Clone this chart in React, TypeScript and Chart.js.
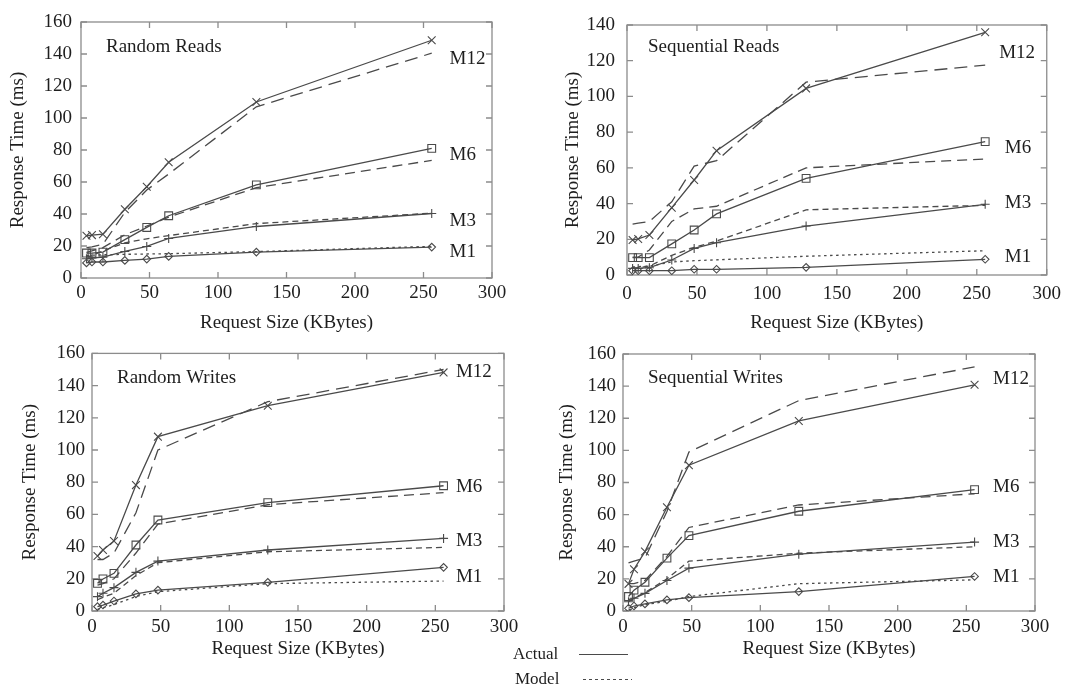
import React, { useEffect, useRef } from 'react';
import { Chart, registerables } from 'chart.js';
Chart.register(...registerables);

const FONT = '"Liberation Serif", "Times New Roman", Times, serif';
const INK = '#1e1e1e';
const LINE = '#4a4a4a';
const FRAME = '#8c8c8c';

const seriesNames = ['M12', 'M6', 'M3', 'M1'];
const xTickValues = [0, 50, 100, 150, 200, 250, 300];

const readSizes = [4, 8, 16, 32, 48, 64, 128, 256];
const writeSizes = [4, 8, 16, 32, 48, 128, 256];

// Random Reads
const rrActualM12 = [26.4, 26.8, 27.4, 43, 57, 72.3, 110, 148.6];
const rrModelM12 = [19, 19.5, 21, 41, 55, 65, 107, 140.5];
const rrActualM6 = [15.6, 15.6, 16.2, 24, 31.6, 38.9, 58.2, 81];
const rrModelM6 = [16, 17, 19, 27, 32.5, 38, 56.5, 73.5];
const rrActualM3 = [12, 12.5, 13, 16.6, 19.7, 24.7, 32.2, 40.3];
const rrModelM3 = [13, 14, 17, 22, 24.5, 26.5, 34, 40.5];
const rrActualM1 = [9.4, 10, 10, 11, 11.8, 13.5, 16.2, 19.3];
const rrModelM1 = [14, 14.3, 14.5, 14.8, 15, 15.2, 16.5, 19.8];

// Sequential Reads
const srActualM12 = [19.6, 20.2, 22.4, 37.7, 53.2, 69.6, 104.5, 135.9];
const srModelM12 = [28.5, 29, 30, 41, 61, 64, 108, 117.5];
const srActualM6 = [9.7, 9.7, 9.7, 17.4, 25.2, 34.2, 54.1, 74.7];
const srModelM6 = [10, 10, 14, 30, 37, 38.5, 60, 65];
const srActualM3 = [3.7, 3.7, 4.1, 8.4, 14.9, 18.1, 27.4, 39.6];
const srModelM3 = [4, 4, 5, 11, 15.5, 19, 36.5, 39];
const srActualM1 = [2.4, 2.4, 2.4, 2.4, 3.2, 3.2, 4.3, 8.8];
const srModelM1 = [4.5, 4.7, 5, 7.3, 8, 8.5, 10.5, 13.6];

// Random Writes
const rwActualM12 = [34.2, 37.9, 43.5, 78.2, 108.3, 127.5, 148.2];
const rwModelM12 = [32, 32, 36, 61, 100, 130, 150];
const rwActualM6 = [17.2, 19.9, 23.4, 41, 56.5, 67.3, 77.8];
const rwModelM6 = [16, 17, 20, 36, 54, 66, 73.5];
const rwActualM3 = [8.9, 11, 14.5, 24, 31, 37.9, 45.1];
const rwModelM3 = [7, 8.5, 11, 22, 30, 36.8, 39.5];
const rwActualM1 = [2.7, 3.7, 6.2, 10.6, 13, 17.8, 27.1];
const rwModelM1 = [1, 2, 4, 9, 12, 17, 18.6];

// Sequential Writes
const swActualM12 = [16.9, 26, 37, 64.6, 90.8, 118.3, 140.8];
const swModelM12 = [30, 31, 33, 62, 99, 131, 152];
const swActualM6 = [9, 13, 17.9, 32.9, 46.9, 62.1, 75.6];
const swModelM6 = [17, 17, 19, 34, 52, 66, 73];
const swActualM3 = [5.8, 7.9, 11, 19, 26.7, 35.4, 42.9];
const swModelM3 = [7, 8, 11.5, 20, 31, 36, 40];
const swActualM1 = [1.7, 3.1, 4.4, 6.9, 8.3, 12.1, 21.5];
const swModelM1 = [0.5, 2, 4, 6, 9, 17, 19.4];

const markerStyles = ['crossRot', 'rect', 'cross', 'rectRot'];
const markerRadii = [5.5, 5.5, 4.5, 3.8];
const modelDashes = [[13, 7], [10, 6], [6, 4], [2.5, 3.5]];

type PanelCfg = {
  title: string;
  sizes: number[];
  actual: number[][];
  model: number[][];
  yMax: number;
  labelAnchors: { x: number; y: number }[];
  rect: { left: number; top: number; width: number; height: number };
  area: { l: number; t: number; r: number; b: number };
  yTitleX: number;
  xTitleY: number;
  yTickPad: number;
  xTickPad: number;
  titleOffset: [number, number];
};

const panels: PanelCfg[] = [
  {
    title: 'Random Reads',
    sizes: readSizes,
    actual: [rrActualM12, rrActualM6, rrActualM3, rrActualM1],
    model: [rrModelM12, rrModelM6, rrModelM3, rrModelM1],
    yMax: 160,
    labelAnchors: [{ x: 269, y: 137 }, { x: 269, y: 77 }, { x: 269, y: 35.6 }, { x: 269, y: 16.3 }],
    rect: { left: 0, top: 0, width: 535, height: 335 },
    area: { l: 81, t: 22, r: 492, b: 278 },
    yTitleX: 18,
    xTitleY: 323,
    yTickPad: 9,
    xTickPad: 4,
    titleOffset: [25, 25],
  },
  {
    title: 'Sequential Reads',
    sizes: readSizes,
    actual: [srActualM12, srActualM6, srActualM3, srActualM1],
    model: [srModelM12, srModelM6, srModelM3, srModelM1],
    yMax: 140,
    labelAnchors: [{ x: 266, y: 124.3 }, { x: 270, y: 71.1 }, { x: 270, y: 40.3 }, { x: 270, y: 10.1 }],
    rect: { left: 535, top: 0, width: 534, height: 335 },
    area: { l: 92, t: 25, r: 512, b: 275 },
    yTitleX: 38,
    xTitleY: 323,
    yTickPad: 12,
    xTickPad: 8,
    titleOffset: [21, 22],
  },
  {
    title: 'Random Writes',
    sizes: writeSizes,
    actual: [rwActualM12, rwActualM6, rwActualM3, rwActualM1],
    model: [rwModelM12, rwModelM6, rwModelM3, rwModelM1],
    yMax: 160,
    labelAnchors: [{ x: 265, y: 148.2 }, { x: 265, y: 77 }, { x: 265, y: 43.4 }, { x: 265, y: 21.1 }],
    rect: { left: 0, top: 335, width: 535, height: 351 },
    area: { l: 92, t: 18, r: 504, b: 276 },
    yTitleX: 30,
    xTitleY: 314,
    yTickPad: 7,
    xTickPad: 5,
    titleOffset: [25, 25],
  },
  {
    title: 'Sequential Writes',
    sizes: writeSizes,
    actual: [swActualM12, swActualM6, swActualM3, swActualM1],
    model: [swModelM12, swModelM6, swModelM3, swModelM1],
    yMax: 160,
    labelAnchors: [{ x: 269.5, y: 144.5 }, { x: 269.5, y: 77.2 }, { x: 269.5, y: 43 }, { x: 269.5, y: 21.2 }],
    rect: { left: 535, top: 335, width: 534, height: 351 },
    area: { l: 88, t: 19, r: 500, b: 276 },
    yTitleX: 32,
    xTitleY: 314,
    yTickPad: 7,
    xTickPad: 5,
    titleOffset: [25, 24],
  },
];

const FONT_SIZE = 19;
const LH = FONT_SIZE * 1.2;

const framePlugin = {
  id: 'frame',
  beforeDatasetsDraw(chart: any) {
    const { ctx, chartArea: a, scales } = chart;
    const x = scales.x;
    const y = scales.y;
    ctx.save();
    ctx.strokeStyle = FRAME;
    ctx.lineWidth = 1.3;
    ctx.strokeRect(a.left, a.top, a.right - a.left, a.bottom - a.top);
    const tl = 6;
    ctx.beginPath();
    x.ticks.forEach((t: any) => {
      const px = x.getPixelForValue(t.value);
      ctx.moveTo(px, a.bottom);
      ctx.lineTo(px, a.bottom - tl);
      ctx.moveTo(px, a.top);
      ctx.lineTo(px, a.top + tl);
    });
    y.ticks.forEach((t: any) => {
      const py = y.getPixelForValue(t.value);
      ctx.moveTo(a.left, py);
      ctx.lineTo(a.left + tl, py);
      ctx.moveTo(a.right, py);
      ctx.lineTo(a.right - tl, py);
    });
    ctx.stroke();
    ctx.restore();
  },
  afterDatasetsDraw(chart: any, _args: any, opts: any) {
    const { ctx, chartArea: a, scales } = chart;
    ctx.save();
    ctx.fillStyle = INK;
    ctx.font = `${FONT_SIZE}px ${FONT}`;
    ctx.textBaseline = 'middle';
    ctx.textAlign = 'left';
    ctx.fillText(opts.title, a.left + opts.titleOffset[0], a.top + opts.titleOffset[1]);
    (opts.labelAnchors as { x: number; y: number }[]).forEach((p, i) => {
      ctx.fillText(seriesNames[i], scales.x.getPixelForValue(p.x), scales.y.getPixelForValue(p.y));
    });
    ctx.restore();
  },
};

function Panel({ cfg }: { cfg: PanelCfg }) {
  const ref = useRef<HTMLCanvasElement>(null);
  useEffect(() => {
    if (!ref.current) return;
    const { rect, area } = cfg;
    const datasets: any[] = [];
    cfg.model.forEach((vals, i) => {
      datasets.push({
        label: seriesNames[i] + ' Model',
        data: vals.map((v, k) => ({ x: cfg.sizes[k], y: v })),
        borderColor: LINE,
        borderWidth: 1.3,
        borderDash: modelDashes[i],
        pointRadius: 0,
        fill: false,
        tension: 0,
      });
    });
    cfg.actual.forEach((vals, i) => {
      datasets.push({
        label: seriesNames[i] + ' Actual',
        data: vals.map((v, k) => ({ x: cfg.sizes[k], y: v })),
        borderColor: LINE,
        borderWidth: 1.3,
        pointStyle: markerStyles[i],
        pointRadius: markerRadii[i],
        pointBorderWidth: 1.1,
        pointBorderColor: LINE,
        pointBackgroundColor: 'rgba(0,0,0,0)',
        fill: false,
        tension: 0,
      });
    });
    const chart = new Chart(ref.current, {
      type: 'line',
      data: { datasets },
      plugins: [framePlugin as any],
      options: {
        animation: false,
        responsive: false,
        devicePixelRatio: 1,
        layout: {
          padding: { left: 0, top: area.t, right: rect.width - area.r, bottom: 0 },
        },
        plugins: {
          legend: { display: false },
          tooltip: { enabled: false },
          frame: { title: cfg.title, labelAnchors: cfg.labelAnchors, titleOffset: cfg.titleOffset },
        } as any,
        scales: {
          x: {
            type: 'linear',
            min: 0,
            max: 300,
            afterBuildTicks: (s: any) => {
              s.ticks = xTickValues.map((v) => ({ value: v }));
            },
            afterFit: (s: any) => {
              s.height = rect.height - area.b;
            },
            ticks: {
              autoSkip: false,
              maxRotation: 0,
              padding: cfg.xTickPad,
              color: INK,
              font: { family: FONT, size: FONT_SIZE },
            },
            grid: { display: false, drawTicks: false },
            border: { display: false },
            title: {
              display: true,
              text: 'Request Size (KBytes)',
              color: INK,
              font: { family: FONT, size: FONT_SIZE },
              padding: { top: 0, bottom: rect.height - cfg.xTitleY - LH / 2 },
            },
          },
          y: {
            type: 'linear',
            min: 0,
            max: cfg.yMax,
            ticks: {
              stepSize: 20,
              autoSkip: false,
              padding: cfg.yTickPad,
              color: INK,
              font: { family: FONT, size: FONT_SIZE },
            },
            afterFit: (s: any) => {
              s.width = area.l;
            },
            grid: { display: false, drawTicks: false },
            border: { display: false },
            title: {
              display: true,
              text: 'Response Time (ms)',
              color: INK,
              font: { family: FONT, size: FONT_SIZE },
              padding: { top: cfg.yTitleX - LH / 2, bottom: 0 },
            },
          },
        },
      },
    });
    return () => chart.destroy();
  }, [cfg]);
  return (
    <canvas
      ref={ref}
      width={cfg.rect.width}
      height={cfg.rect.height}
      style={{
        position: 'absolute',
        left: cfg.rect.left,
        top: cfg.rect.top,
        width: cfg.rect.width,
        height: cfg.rect.height,
      }}
    />
  );
}

export default function App() {
  return (
    <div
      style={{
        position: 'fixed',
        left: 0,
        top: 0,
        width: 1069,
        height: 686,
        background: '#fff',
        overflow: 'hidden',
      }}
    >
      {panels.map((p) => (
        <Panel key={p.title} cfg={p} />
      ))}
      <svg
        width={140}
        height={46}
        style={{ position: 'absolute', left: 500, top: 640 }}
      >
        <text x={13} y={15} fontFamily={FONT} fontSize={17} fill={INK} dominantBaseline="middle">
          Actual
        </text>
        <line x1={79} y1={14.5} x2={128} y2={14.5} stroke={LINE} strokeWidth={1.2} />
        <text x={15} y={40} fontFamily={FONT} fontSize={17} fill={INK} dominantBaseline="middle">
          Model
        </text>
        <line x1={83} y1={39.5} x2={132} y2={39.5} stroke={LINE} strokeWidth={1.2} strokeDasharray="3,3" />
      </svg>
    </div>
  );
}
